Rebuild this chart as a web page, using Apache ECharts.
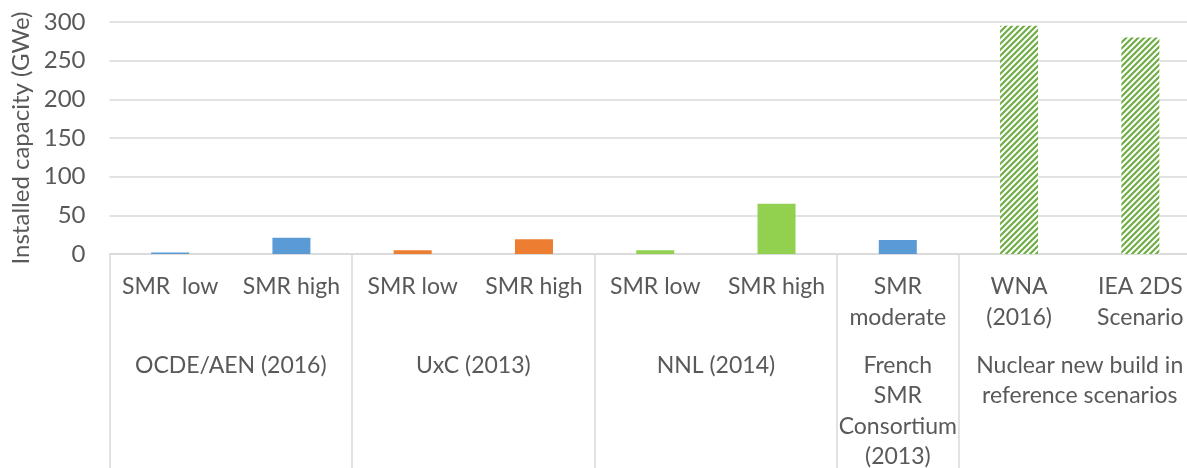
<!DOCTYPE html>
<html>
<head>
<meta charset="utf-8">
<script src="https://cdn.jsdelivr.net/npm/echarts@6/dist/echarts.min.js"></script>
<style>
  html, body { margin: 0; padding: 0; background: #fff; }
  #chart { width: 1187px; height: 468px; }
</style>
</head>
<body>
<div id="chart"></div>
<script>
var categories = ['SMR  low', 'SMR high', 'SMR low', 'SMR high', 'SMR low', 'SMR high', 'SMR\nmoderate', 'WNA\n(2016)', 'IEA 2DS\nScenario']
var values = [2, 21, 5, 19, 5, 65, 18, 295, 280]
var barKinds = ['blue', 'blue', 'orange', 'orange', 'green', 'green', 'blue', 'hatch', 'hatch']
// groups: label + how many categories it spans
var groupNames = ['OCDE/AEN (2016)', 'UxC (2013)', 'NNL (2014)', 'French\nSMR\nConsortium\n(2013)', 'Nuclear new build in\nreference scenarios']
var groupSizes = [2, 2, 2, 1, 2]
var yTicks = [0, 50, 100, 150, 200, 250, 300]

var textColor = '#595959'
var lineColor = '#d9d9d9'
var font = 'Lato'

// hatched pattern for the scenario bars
function makeHatch(color) {
    var c = document.createElement('canvas')
    c.width = 6
    c.height = 6
    var ctx = c.getContext('2d')
    ctx.fillStyle = '#fff'
    ctx.fillRect(0, 0, 6, 6)
    ctx.strokeStyle = color
    ctx.lineWidth = 2.2
    ctx.beginPath()
    ctx.moveTo(-1, 7); ctx.lineTo(7, -1)
    ctx.moveTo(-4, 4); ctx.lineTo(4, -4)
    ctx.moveTo(2, 10); ctx.lineTo(10, 2)
    ctx.stroke()
    return c
}

var colors = {
    blue: '#5B9BD5',
    orange: '#ED7D31',
    green: '#92D050',
    hatch: { image: makeHatch('#70AD47'), repeat: 'repeat' },
}

// group label positions (in category units) and separator indexes
var groupCenters = {}
var separators = []
var pos = 0
groupSizes.forEach(function (n, i) {
    separators.push(pos)
    groupCenters[String(pos + n / 2)] = groupNames[i]
    pos += n
})

var chart = echarts.init(document.getElementById('chart'))
var option = {
    backgroundColor: '#fff',
    animation: false,
    grid: { left: 109.5, right: -14, top: 22, bottom: 214, outerBoundsMode: 'none', containLabel: false },
    xAxis: [
        {
            type: 'category',
            data: categories,
            axisLine: { lineStyle: { color: lineColor, width: 1.5 } },
            axisTick: {
                show: true,
                interval: function (index) { return separators.indexOf(index) >= 0 },
                length: 214,
                lineStyle: { color: lineColor, width: 1.5 },
            },
            axisLabel: {
                interval: 0,
                margin: 17,
                color: textColor,
                fontFamily: font,
                fontSize: 23,
                lineHeight: 31,
            },
        },
        {
            type: 'value',
            position: 'bottom',
            min: 0,
            max: categories.length,
            interval: 0.5,
            axisLine: { show: false },
            axisTick: { show: false },
            splitLine: { show: false },
            axisLabel: {
                margin: 96,
                color: textColor,
                fontFamily: font,
                fontSize: 23,
                lineHeight: 30.5,
                formatter: function (v) { return groupCenters[String(v)] || '' },
            },
        },
    ],
    yAxis: {
        type: 'value',
        min: yTicks[0],
        max: yTicks[yTicks.length - 1],
        interval: 50,
        name: 'Installed capacity (GWe)',
        nameLocation: 'middle',
        nameGap: 76,
        nameTextStyle: { color: textColor, fontFamily: font, fontSize: 24 },
        axisLine: { show: false },
        axisTick: { show: false },
        axisLabel: { margin: 24, color: textColor, fontFamily: font, fontSize: 24 },
        splitLine: { lineStyle: { color: lineColor, width: 1.5 } },
    },
    series: [
        {
            type: 'bar',
            xAxisIndex: 0,
            barWidth: 38,
            data: values.map(function (v, i) {
                return { value: v, itemStyle: { color: colors[barKinds[i]] } }
            }),
        },
    ],
}
chart.setOption(option)
</script>
</body>
</html>
